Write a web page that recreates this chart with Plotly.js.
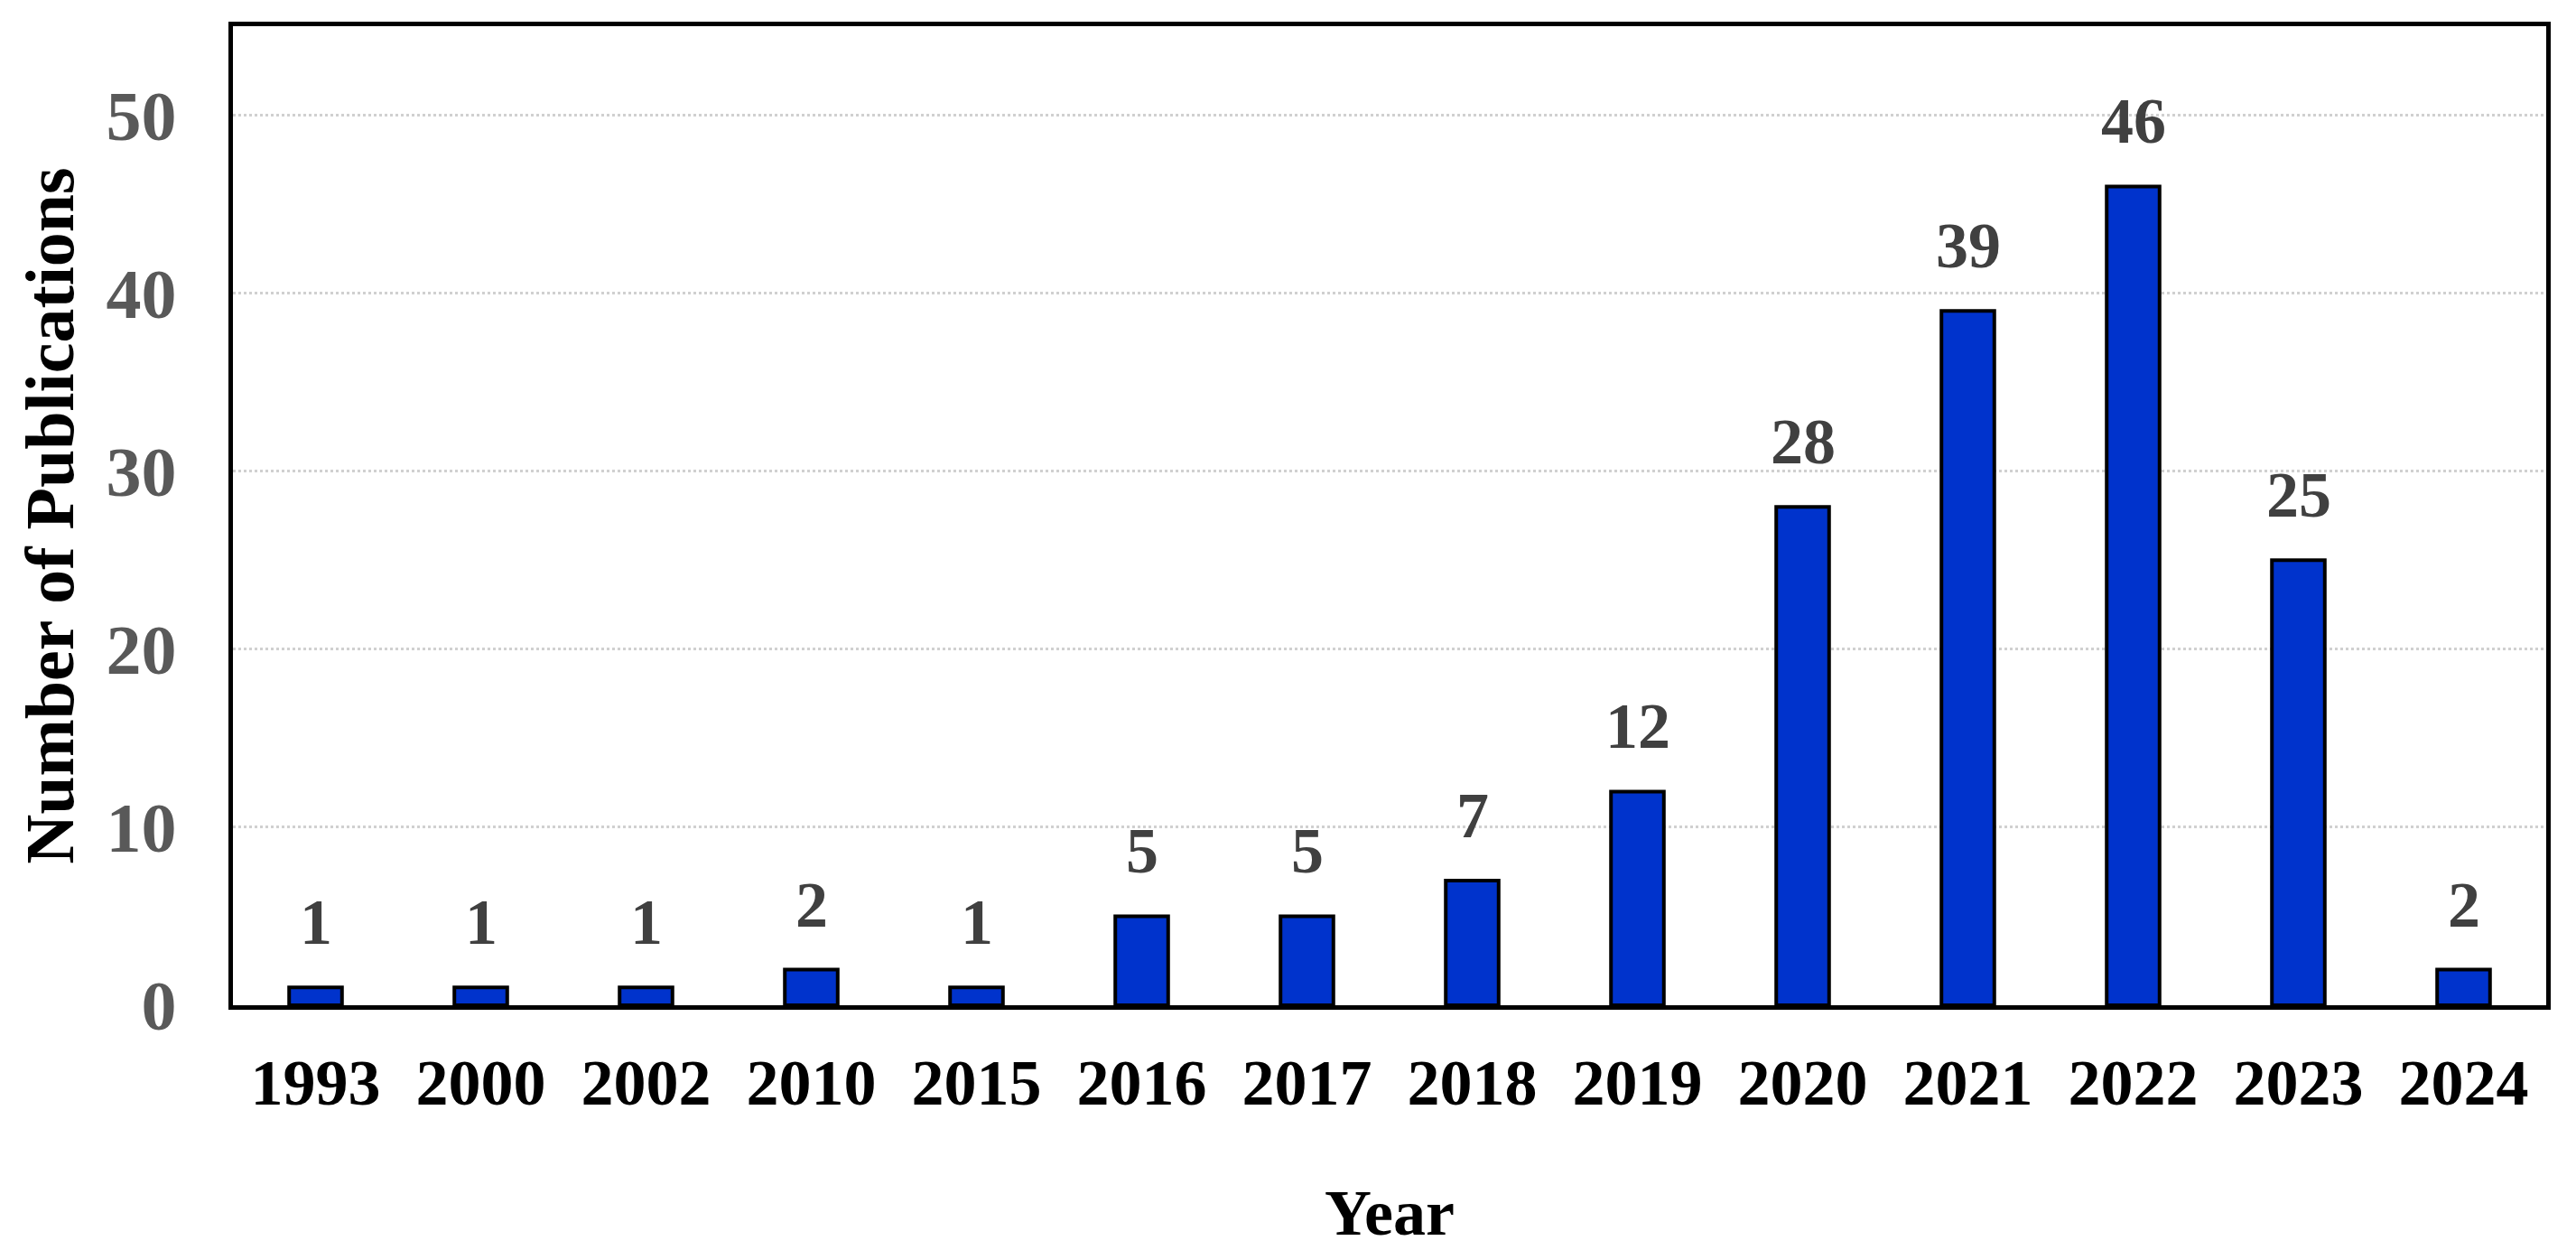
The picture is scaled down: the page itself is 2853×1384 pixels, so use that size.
<!DOCTYPE html>
<html>
<head>
<meta charset="utf-8">
<script src="https://cdn.plot.ly/plotly-3.0.1.min.js"></script>
<style>html,body{margin:0;padding:0;background:#fff;}#chart{width:2853px;height:1384px;}</style>
</head>
<body>
<div id="chart"></div>
<script>
const years = ["1993","2000","2002","2010","2015","2016","2017","2018","2019","2020","2021","2022","2023","2024"];
const publications = [1,1,1,2,1,5,5,7,12,28,39,46,25,2];
const yTicks = [0,10,20,30,40,50];

const FONT = "'Liberation Serif', 'Times New Roman', serif";

const trace = {
  type: "bar",
  x: years,
  y: publications,
  marker: { color: "#0033cc", line: { color: "#000000", width: 4 } },
  hoverinfo: "x+y"
};

const annotations = years.map((yr, i) => ({
  x: i, y: publications[i], xref: "x", yref: "y",
  text: String(publications[i]), showarrow: false,
  yanchor: "bottom", yshift: 30,
  font: { family: FONT, size: 72, color: "#404040", weight: "bold" }
}));

const layout = {
  width: 2853, height: 1384,
  margin: { l: 258, r: 33, t: 29, b: 271 },
  paper_bgcolor: "#ffffff", plot_bgcolor: "#ffffff",
  showlegend: false,
  bargap: 0.68,
  font: { family: FONT },
  xaxis: {
    type: "category",
    categoryorder: "array", categoryarray: years,
    range: [-0.5, years.length - 0.5],
    showline: true, mirror: true, linecolor: "#000000", linewidth: 5,
    showgrid: false, zeroline: false,
    ticks: "outside", ticklen: 19, tickcolor: "rgba(0,0,0,0)",
    tickfont: { family: FONT, size: 72, color: "#000000", weight: "bold" },
    title: { text: "Year", standoff: 80, font: { family: FONT, size: 72, color: "#000000", weight: "bold" } }
  },
  yaxis: {
    range: [0, 55],
    tickvals: yTicks,
    showline: true, mirror: true, linecolor: "#000000", linewidth: 5,
    showgrid: true, gridcolor: "#d0d0d0", gridwidth: 3, griddash: "dot",
    zeroline: false,
    ticks: "outside", ticklen: 42, tickcolor: "rgba(0,0,0,0)",
    tickfont: { family: FONT, size: 78, color: "#595959", weight: "bold" },
    title: { text: "Number of Publications", standoff: 12, font: { family: FONT, size: 76, color: "#000000", weight: "bold" } }
  },
  annotations: annotations
};

Plotly.newPlot("chart", [trace], layout, { displayModeBar: false, staticPlot: true });
</script>
</body>
</html>
